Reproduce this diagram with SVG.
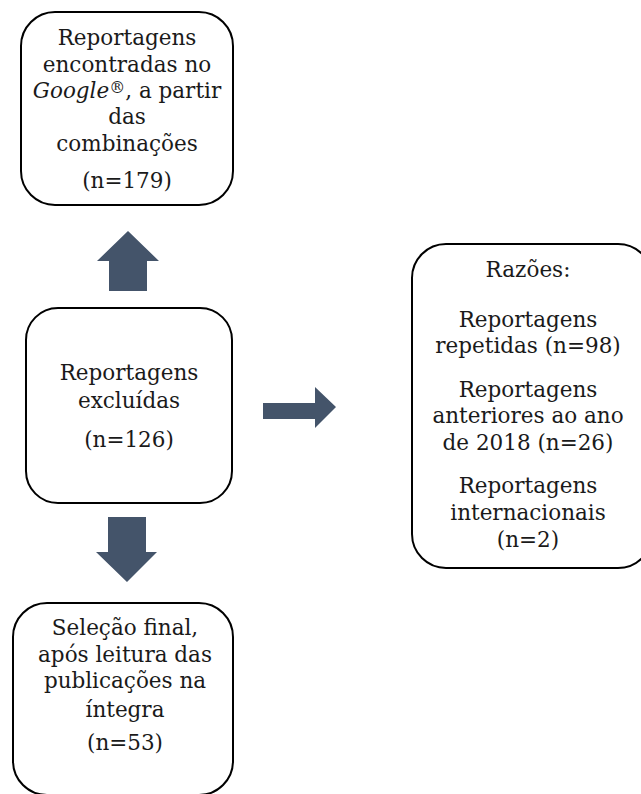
<svg xmlns="http://www.w3.org/2000/svg" width="641" height="794" viewBox="0 0 641 794">
<style>
.box{fill:#fff;stroke:#000;stroke-width:2}
.t{font-family:"DejaVu Serif","Liberation Serif",serif;font-size:21.5px;fill:#1a1a1a;text-anchor:middle}
.arr{fill:#44546A}
</style>
<rect width="641" height="794" fill="#fff"/>
<g id="connectors">
<polygon class="arr" points="109,291 109,261 97,261 128,231 159,261 147,261 147,291"/>
<polygon class="arr" points="263,403 315,403 315,387 336,407 315,428 315,419 263,419"/>
<polygon class="arr" points="108,517 146,517 146,552 157,552 127,582 96,552 108,552"/>
</g>
<g id="n1">
<rect class="box" x="21" y="12" width="212" height="193" rx="34"/>
<text class="t" x="127" y="45">Reportagens</text>
<text class="t" x="127" y="72">encontradas no</text>
<text class="t" x="127" y="98"><tspan font-style="italic">Google</tspan><tspan font-size="16" dy="-5">®</tspan><tspan dy="5">, a partir</tspan></text>
<text class="t" x="127" y="124">das</text>
<text class="t" x="127" y="151">combinações</text>
<text class="t" x="127" y="188">(n=179)</text>
</g>
<g id="n2">
<rect class="box" x="26" y="308" width="206" height="195" rx="32"/>
<text class="t" x="129" y="380">Reportagens</text>
<text class="t" x="129" y="408">excluídas</text>
<text class="t" x="129" y="447">(n=126)</text>
</g>
<g id="n3">
<rect class="box" x="412" y="244" width="240" height="324" rx="34"/>
<text class="t" x="528" y="277">Razões:</text>
<text class="t" x="528" y="327">Reportagens</text>
<text class="t" x="528" y="353">repetidas (n=98)</text>
<text class="t" x="528" y="397">Reportagens</text>
<text class="t" x="528" y="423">anteriores ao ano</text>
<text class="t" x="528" y="450">de 2018 (n=26)</text>
<text class="t" x="528" y="493">Reportagens</text>
<text class="t" x="528" y="520">internacionais</text>
<text class="t" x="528" y="547">(n=2)</text>
</g>
<g id="n4">
<rect class="box" x="13" y="603" width="220" height="192" rx="34"/>
<text class="t" x="125" y="635">Seleção final,</text>
<text class="t" x="125" y="662">após leitura das</text>
<text class="t" x="125" y="688">publicações na</text>
<text class="t" x="125" y="717">íntegra</text>
<text class="t" x="125" y="750">(n=53)</text>
</g>
</svg>
